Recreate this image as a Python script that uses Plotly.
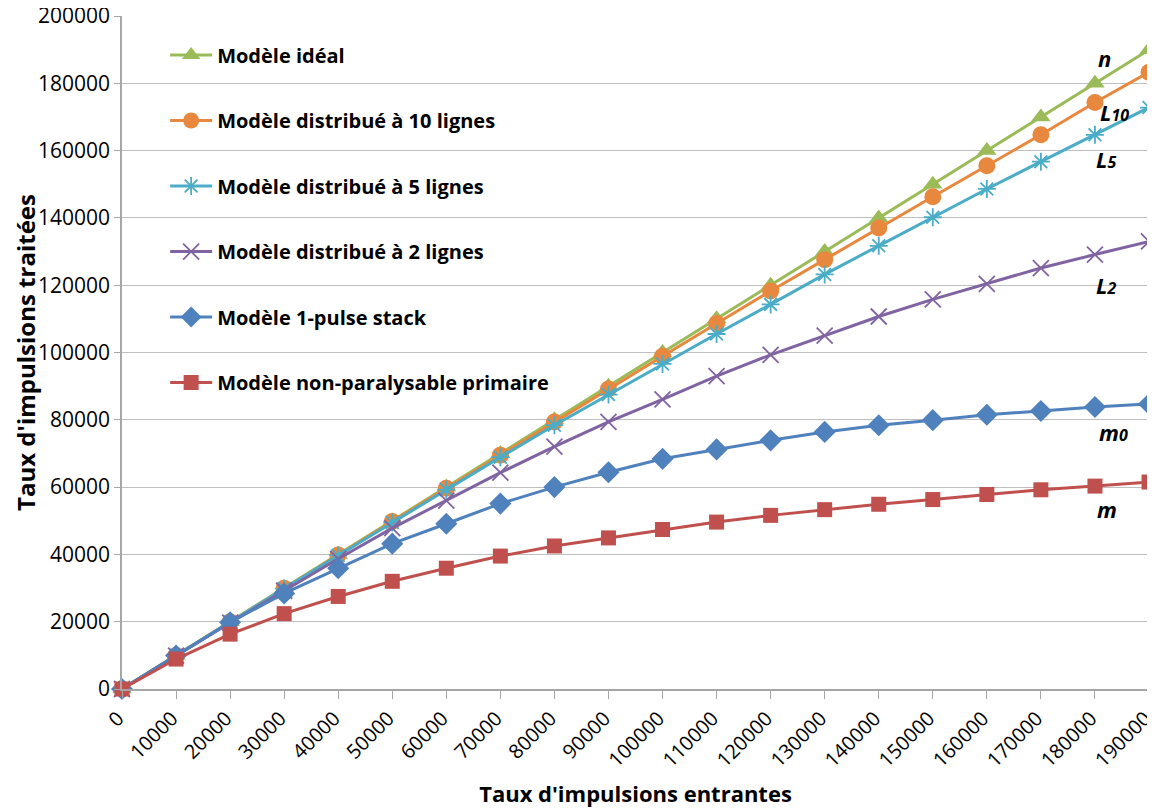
import plotly.graph_objects as go

# input rate (x axis)
taux_entrant = [0, 10000, 20000, 30000, 40000, 50000, 60000, 70000, 80000, 90000,
                100000, 110000, 120000, 130000, 140000, 150000, 160000, 170000, 180000, 190000]

# processed rate for each model
ideal = [0, 10000, 20000, 30000, 40000, 50000, 60000, 70000, 80000, 90000,
         100000, 110000, 120000, 130000, 140000, 150000, 160000, 170000, 180000, 190000]
distrib_10 = [0, 9990, 19960, 29910, 39840, 49750, 59640, 69500, 79330, 89130,
              98900, 108600, 118300, 127600, 137000, 146300, 155500, 164700, 174300, 183300]
distrib_5 = [0, 9990, 19940, 29840, 39700, 49500, 59250, 68900, 78400, 87500,
             96600, 105500, 114300, 123200, 131700, 140200, 148600, 156700, 164700, 172800]
distrib_2 = [0, 9950, 19700, 29200, 38700, 47800, 56000, 64300, 72000, 79400,
             86100, 93000, 99300, 105000, 110700, 115800, 120400, 125100, 129100, 133000]
pulse_stack = [0, 9950, 19850, 28400, 35900, 43200, 49100, 55100, 60000, 64400,
               68400, 71200, 73900, 76400, 78400, 79900, 81500, 82600, 83800, 84700]
non_paralysable = [0, 8900, 16300, 22400, 27500, 32000, 35900, 39500, 42500, 44900,
                   47400, 49600, 51600, 53300, 54900, 56300, 57800, 59200, 60300, 61500]

y_ticks = list(range(0, 200001, 20000))

series = [
    ("Modèle idéal", ideal, "#9BBB59", "triangle-up", 17, 0),
    ("Modèle distribué à 10 lignes", distrib_10, "#E8883E", "circle", 17, 0),
    ("Modèle distribué à 5 lignes", distrib_5, "#4BACC6", "asterisk-open", 15, 1.8),
    ("Modèle distribué à 2 lignes", distrib_2, "#8064A2", "x-thin-open", 16, 1.8),
    ("Modèle 1-pulse stack", pulse_stack, "#4F81BD", "diamond", 17, 0),
    ("Modèle non-paralysable primaire", non_paralysable, "#C0504D", "square", 15, 0),
]

fig = go.Figure()
for i, (name, vals, color, symbol, size, lw) in enumerate(series):
    fig.add_trace(go.Scatter(
        x=taux_entrant, y=vals, name=name, mode='lines+markers',
        line=dict(color=color, width=3),
        marker=dict(symbol=symbol, size=size, color=color,
                    line=dict(color=color, width=lw)),
        legendgroup=str(i), cliponaxis=False
    ))

# curve labels on the right
labels = [
    ("n", 0.957, 0.938),
    ("L<span style='font-size:16px'>10</span>", 0.966, 0.857),
    ("L<span style='font-size:16px'>5</span>", 0.958, 0.787),
    ("L<span style='font-size:16px'>2</span>", 0.958, 0.600),
    ("m<span style='font-size:16px'>0</span>", 0.965, 0.382),
    ("m", 0.959, 0.268),
]
for txt, xp, yp in labels:
    fig.add_annotation(text="<b><i>" + txt + "</i></b>", x=xp, y=yp, xref='paper', yref='paper',
                       xanchor='center', yanchor='middle',
                       showarrow=False, font=dict(size=22, color='black'))

# y axis title
fig.add_annotation(text="<b>Taux d'impulsions traitées</b>", textangle=-90,
                   x=-0.094, y=0.5, xref='paper', yref='paper',
                   xanchor='center', yanchor='middle', showarrow=False,
                   font=dict(size=24, color='black'))

# the page body has an 8px margin, so the figure is 8px smaller than the window
fig.update_layout(
    width=1147, height=802,
    font=dict(family="Open Sans", color='black', size=19),
    plot_bgcolor='white', paper_bgcolor='white',
    margin=dict(l=114, r=6, t=8, b=121),
    legend=dict(x=0.042, y=0.971, xanchor='left', yanchor='top',
                bgcolor='rgba(0,0,0,0)', tracegroupgap=36.5, itemwidth=42,
                font=dict(size=20, family="Open Sans", weight='bold')),
    showlegend=True,
)

fig.update_xaxes(
    range=[0, 190000], tickmode='array', tickvals=taux_entrant,
    ticktext=[str(v) for v in taux_entrant], tickangle=-45,
    ticklabeloverflow='allow', ticklabelshift=-4, automargin=False,
    showgrid=False, showline=True, linecolor='#A6A6A6', linewidth=1.5,
    ticks='outside', ticklen=8, tickcolor='#A6A6A6',
    tickfont=dict(size=20), zeroline=False,
    title=dict(text="<b>Taux d'impulsions entrantes</b>", font=dict(size=22))
)
fig.update_yaxes(
    range=[0, 200000], tickmode='array', tickvals=y_ticks,
    ticktext=[str(v) for v in y_ticks], automargin=False,
    ticklabeloverflow='allow',
    showgrid=True, gridcolor='#BFBFBF', gridwidth=1.2,
    showline=True, linecolor='#A6A6A6', linewidth=1.5,
    ticks='outside', ticklen=6, tickcolor='#A6A6A6',
    tickfont=dict(size=21), zeroline=False,
)

fig.write_html("out.html")
